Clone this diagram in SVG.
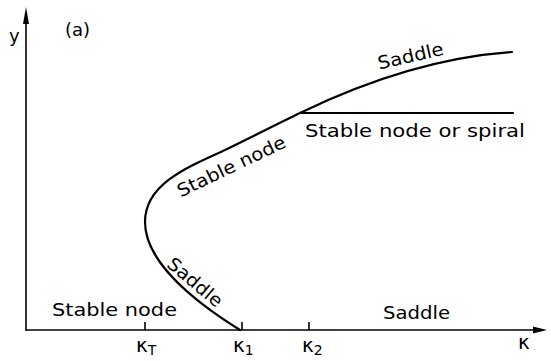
<svg xmlns="http://www.w3.org/2000/svg" width="551" height="361" viewBox="0 0 551 361">
<style>
.ax{stroke:#000;stroke-width:1.6;fill:none}
.cv{stroke:#000;stroke-width:2.2;fill:none;stroke-linecap:round}
.t{font-family:"DejaVu Sans",sans-serif;font-size:18px;fill:#000}
.k{font-family:"DejaVu Sans",sans-serif;font-size:20px;fill:#000}
.s{font-family:"DejaVu Sans",sans-serif;font-size:14px;fill:#000}
</style>
<rect width="551" height="361" fill="#fff"/>
<g id="axes">
<line class="ax" x1="26" y1="18" x2="26" y2="331"/>
<path d="M26,7 L29,24 L23,24 Z" fill="#000"/>
<line class="ax" x1="26" y1="330" x2="536" y2="330"/>
<path d="M547,330 L533,326.5 L533,333.5 Z" fill="#000"/>
<line class="ax" x1="145" y1="322" x2="145" y2="330"/>
<line class="ax" x1="242" y1="322" x2="242" y2="330"/>
<line class="ax" x1="309" y1="322" x2="309" y2="330"/>
<text class="t" x="9" y="42">y</text>
<text class="t" x="65" y="36">(a)</text>
<text class="k" x="136" y="352">κ<tspan class="s" dy="3">T</tspan></text>
<text class="k" x="233" y="352">κ<tspan class="s" dy="3">1</tspan></text>
<text class="k" x="302" y="352">κ<tspan class="s" dy="3">2</tspan></text>
<text class="k" x="518" y="349">κ</text>
</g>
<g id="curves">
<path class="cv" d="M240,330 C195,302 145,262 145,222 C145,185 185,168 225,150 C250,138 275,125 300,113 C370,79 440,57 512,52"/>
<line class="cv" x1="302" y1="113" x2="513" y2="113"/>
</g>
<g id="labels">
<text class="t" x="52" y="316" textLength="125" lengthAdjust="spacingAndGlyphs">Stable node</text>
<text class="t" x="383" y="319" textLength="67" lengthAdjust="spacingAndGlyphs">Saddle</text>
<text class="t" x="305" y="137" textLength="220" lengthAdjust="spacingAndGlyphs">Stable node or spiral</text>
<text class="t" x="0" y="0" text-anchor="middle" textLength="67" lengthAdjust="spacingAndGlyphs" transform="translate(412,62) rotate(-13)">Saddle</text>
<text class="t" x="0" y="0" text-anchor="middle" textLength="118" lengthAdjust="spacingAndGlyphs" transform="translate(234,172) rotate(-25.5)">Stable node</text>
<text class="t" x="0" y="0" text-anchor="middle" textLength="66" lengthAdjust="spacingAndGlyphs" transform="translate(191,287) rotate(40)">Saddle</text>
</g>
</svg>
